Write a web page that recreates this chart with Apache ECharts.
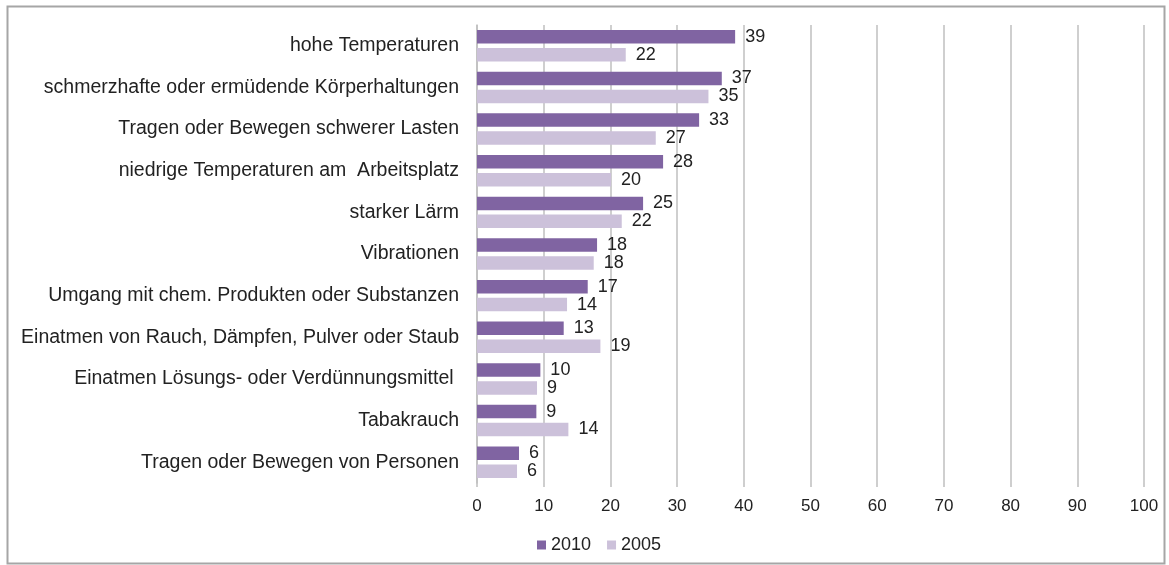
<!DOCTYPE html>
<html>
<head>
<meta charset="utf-8">
<script src="https://cdn.jsdelivr.net/npm/echarts@6/dist/echarts.min.js"></script>
<style>
  html, body { margin: 0; padding: 0; background: #fff; }
  #chart { width: 1169px; height: 565px; }
</style>
</head>
<body>
<div id="chart"></div>
<script>
// categories top to bottom
var categories = [
  "hohe Temperaturen",
  "schmerzhafte oder ermüdende Körperhaltungen",
  "Tragen oder Bewegen schwerer Lasten",
  "niedrige Temperaturen am  Arbeitsplatz",
  "starker Lärm",
  "Vibrationen",
  "Umgang mit chem. Produkten oder Substanzen",
  "Einatmen von Rauch, Dämpfen, Pulver oder Staub",
  "Einatmen Lösungs- oder Verdünnungsmittel ",
  "Tabakrauch",
  "Tragen oder Bewegen von Personen"
];
var values2010 = [38.7, 36.7, 33.3, 27.9, 24.9, 18.0, 16.6, 13.0, 9.5, 8.9, 6.3];
var values2005 = [22.3, 34.7, 26.8, 20.1, 21.7, 17.5, 13.5, 18.5, 9.0, 13.7, 6.0];
var xTicks = [0, 10, 20, 30, 40, 50, 60, 70, 80, 90, 100];

var textColor = "#222";
var gridColor = "#bfbfbf";
var fontFam = "Liberation Sans, Arial, sans-serif";

var myChart = echarts.init(document.getElementById("chart"));

var labelOpt = {
  show: true,
  position: "right",
  distance: 10,
  color: textColor,
  fontSize: 18,
  fontFamily: fontFam,
  formatter: function (p) {
    return Math.round(p.value);
  }
};

var option = {
  backgroundColor: "#fff",
  animation: false,
  textStyle: { fontFamily: fontFam },
  graphic: [
    {
      type: "rect",
      left: 5,
      top: 4,
      shape: { width: 1157, height: 557 },
      style: { fill: "none", stroke: "#a6a6a6", lineWidth: 2 },
      silent: true
    }
  ],
  grid: {
    left: 477,
    right: 25,
    top: 25,
    bottom: 82,
    containLabel: false
  },
  legend: {
    left: 532,
    top: 531,
    itemWidth: 9,
    itemHeight: 9,
    itemGap: 16,
    icon: "rect",
    textStyle: { color: textColor, fontSize: 18 },
    data: ["2010", "2005"]
  },
  xAxis: {
    type: "value",
    min: xTicks[0],
    max: xTicks[xTicks.length - 1],
    interval: 10,
    axisLine: { show: false },
    axisTick: { show: true, length: 4, lineStyle: { color: gridColor, width: 1.5 } },
    axisLabel: { color: textColor, fontSize: 17, margin: 15 },
    splitLine: { show: true, lineStyle: { color: gridColor, width: 1.5 } }
  },
  yAxis: {
    type: "category",
    inverse: true,
    data: categories,
    axisLine: { show: true, lineStyle: { color: gridColor, width: 1.5 } },
    axisTick: { show: false },
    axisLabel: { color: textColor, fontSize: 19.5, margin: 18 }
  },
  series: [
    {
      name: "2010",
      type: "bar",
      barWidth: 13.5,
      barGap: "33%",
      itemStyle: { color: "#8064a2" },
      label: labelOpt,
      data: values2010
    },
    {
      name: "2005",
      type: "bar",
      barWidth: 13.5,
      barGap: "33%",
      itemStyle: { color: "#ccc1da" },
      label: labelOpt,
      data: values2005
    }
  ]
};

myChart.setOption(option);
</script>
</body>
</html>
